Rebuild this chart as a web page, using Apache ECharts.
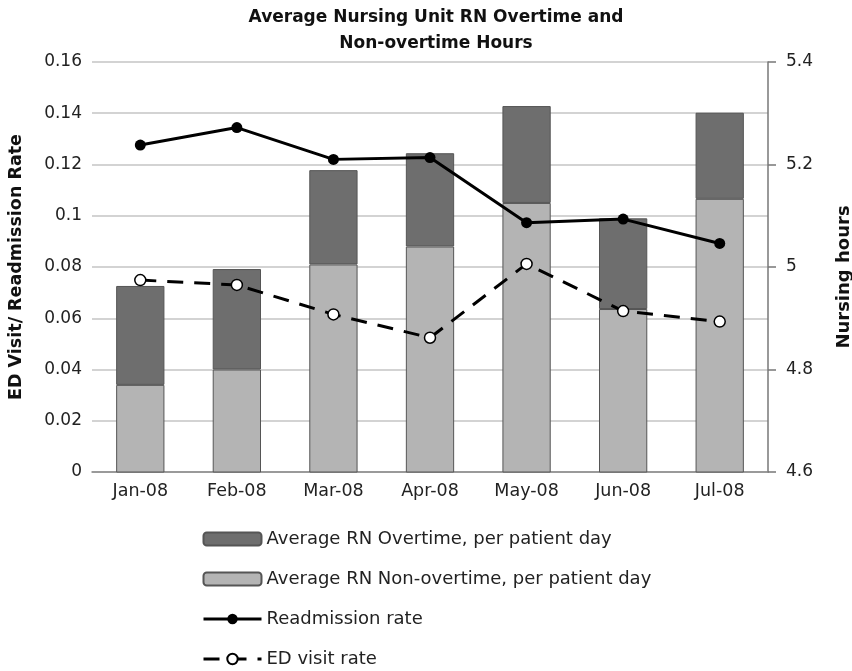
<!DOCTYPE html>
<html>
<head>
<meta charset="utf-8">
<script src="https://cdn.jsdelivr.net/npm/echarts@6/dist/echarts.min.js"></script>
<style>
  html, body { margin: 0; padding: 0; background: #fff; }
  #chart { width: 852px; height: 671px; }
</style>
</head>
<body>
<div id="chart"></div>
<script>
// values
const months = ["Jan-08", "Feb-08", "Mar-08", "Apr-08", "May-08", "Jun-08", "Jul-08"];
const nonOvertimeHours = [4.77, 4.80, 5.005, 5.04, 5.125, 4.918, 5.133];
const overtimeHours = [0.193, 0.196, 0.184, 0.182, 0.189, 0.177, 0.168];
const readmissionRate = [0.1276, 0.1344, 0.1220, 0.1227, 0.0973, 0.0987, 0.0892];
const edVisitRate = [0.0749, 0.0730, 0.0615, 0.0524, 0.0812, 0.0628, 0.0587];

const font = "DejaVu Sans";
const chart = echarts.init(document.getElementById("chart"));

const option = {
	animation: false,
	textStyle: { fontFamily: font },
	title: {
		text: "Average Nursing Unit RN Overtime and\nNon-overtime Hours",
		left: 431,
		textAlign: "center",
		top: 0,
		textStyle: {
			fontFamily: font,
			fontSize: 17,
			fontWeight: "bold",
			color: "#111",
			lineHeight: 26
		}
	},
	legend: {
		orient: "vertical",
		left: 197,
		top: 525,
		height: 170,
		itemGap: 22,
		itemWidth: 58,
		itemHeight: 13,
		lineStyle: { width: 3 },
		textStyle: { fontFamily: font, fontSize: 18, color: "#222" },
		data: [
			"Average RN Overtime, per patient day",
			"Average RN Non-overtime, per patient day",
			"Readmission rate",
			"ED visit rate"
		]
	},
	grid: { left: 92, right: 84, top: 62, bottom: 199, outerBoundsMode: "none" },
	xAxis: {
		type: "category",
		data: months,
		axisLine: { lineStyle: { color: "#888", width: 1.5 } },
		axisTick: { show: false },
		axisLabel: { fontSize: 17.5, color: "#222", margin: 10 }
	},
	yAxis: [
		{
			type: "value",
			min: 0,
			max: 0.16,
			interval: 0.02,
			name: "ED Visit/ Readmission Rate",
			nameLocation: "middle",
			nameGap: 67,
			nameTextStyle: { fontFamily: font, fontSize: 17.5, fontWeight: "bold", color: "#111" },
			axisLine: { show: false },
			axisTick: { show: false },
			axisLabel: { fontSize: 17, color: "#222", margin: 10 },
			splitLine: { lineStyle: { color: "#c4c4c4", width: 1.5 } }
		},
		{
			type: "value",
			min: 4.6,
			max: 5.4,
			interval: 0.2,
			name: "Nursing hours",
			nameLocation: "middle",
			nameGap: 67,
			nameRotate: 90,
			nameTextStyle: { fontFamily: font, fontSize: 18, fontWeight: "bold", color: "#111", padding: [0, 20, 0, 0] },
			axisLine: { show: true, lineStyle: { color: "#777", width: 1.5 } },
			axisTick: { show: true, length: 8, lineStyle: { color: "#777", width: 1.5 } },
			axisLabel: { fontSize: 17, color: "#222", margin: 18 },
			splitLine: { show: false }
		}
	],
	series: [
		{
			name: "Average RN Non-overtime, per patient day",
			type: "bar",
			yAxisIndex: 1,
			stack: "hours",
			barWidth: "50%",
			data: nonOvertimeHours,
			itemStyle: { color: "#b4b4b4", borderColor: "#555", borderWidth: 1 }
		},
		{
			name: "Average RN Overtime, per patient day",
			type: "bar",
			yAxisIndex: 1,
			stack: "hours",
			barWidth: "50%",
			data: overtimeHours,
			itemStyle: { color: "#6e6e6e", borderColor: "#555", borderWidth: 1 }
		},
		{
			name: "Readmission rate",
			type: "line",
			yAxisIndex: 0,
			data: readmissionRate,
			symbol: "circle",
			symbolSize: 11,
			lineStyle: { color: "#000", width: 3 },
			itemStyle: { color: "#000" }
		},
		{
			name: "ED visit rate",
			type: "line",
			yAxisIndex: 0,
			data: edVisitRate,
			symbol: "circle",
			symbolSize: 11,
			lineStyle: { color: "#000", width: 3, type: [16, 11] },
			itemStyle: { color: "#fff", borderColor: "#000", borderWidth: 1.5 }
		}
	]
};

option && chart.setOption(option);
</script>
</body>
</html>
